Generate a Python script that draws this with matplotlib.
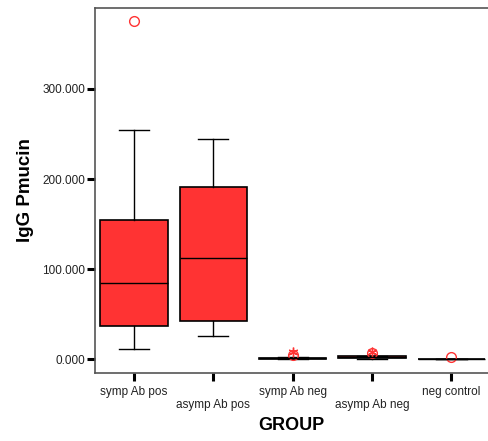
import matplotlib
matplotlib.use("Agg")
import matplotlib.pyplot as plt
from matplotlib.ticker import FuncFormatter

plt.rcParams['font.family'] = ['Liberation Sans', 'DejaVu Sans']

# group statistics
groups = ['symp Ab pos', 'asymp Ab pos', 'symp Ab neg', 'asymp Ab neg', 'neg control']
whislo = [11.0, 25.5, 0.0, 0.3, 0.0]
q1 = [36.5, 42.0, 0.3, 1.0, 0.1]
med = [84.0, 112.0, 0.8, 2.0, 0.2]
q3 = [154.0, 191.5, 1.5, 3.0, 0.4]
whishi = [254.5, 245.0, 2.5, 3.5, 0.6]
outliers = [[375.0], [], [4.5], [6.5], [2.5]]
extremes = [[], [], [8.0], [8.0], []]

red = '#FF3333'

stats = []
for i in range(len(groups)):
    stats.append(dict(label=groups[i], whislo=whislo[i], q1=q1[i], med=med[i],
                      q3=q3[i], whishi=whishi[i], fliers=outliers[i]))

fig = plt.figure(figsize=(4.88, 4.41), dpi=100)
ax = fig.add_axes([0.195, 0.154, 0.805, 0.828])

pos = list(range(len(groups)))
ax.bxp(stats, positions=pos, widths=0.85, patch_artist=True,
       boxprops=dict(facecolor=red, edgecolor='black', linewidth=1.2),
       medianprops=dict(color='black', linewidth=1.0),
       whiskerprops=dict(color='black', linewidth=1.0),
       capprops=dict(color='black', linewidth=1.0),
       capwidths=0.38,
       flierprops=dict(marker='o', markerfacecolor='none', markeredgecolor=red,
                       markersize=7, markeredgewidth=1.0))

for i, vals in enumerate(extremes):
    if vals:
        ax.plot([pos[i]] * len(vals), vals, linestyle='none', marker=(6, 2, 0),
                color=red, markersize=7, markeredgewidth=1.0)

ax.set_xlim(-0.49, 4.46)
ax.set_ylim(-15.5, 390)
ax.set_yticks([0, 100, 200, 300])
ax.yaxis.set_major_formatter(FuncFormatter(lambda v, p: '%.3f' % v))

ax.set_xticks(pos)
ax.set_xticklabels([g if i % 2 == 0 else '\n' + g for i, g in enumerate(groups)])

ax.tick_params(axis='both', direction='out', length=6, width=2.2, color='black',
               labelsize=8.5, labelcolor='#222222')
ax.tick_params(axis='y', pad=1)
ax.tick_params(axis='x', pad=3)

for side in ['left', 'bottom', 'top']:
    ax.spines[side].set_color('#555555')
    ax.spines[side].set_linewidth(1.2)
ax.spines['right'].set_visible(False)

ax.set_xlabel('GROUP', fontsize=13, fontweight='bold', labelpad=4)
ax.set_ylabel('IgG Pmucin', fontsize=13.5, fontweight='bold', labelpad=6)

fig.savefig('out.png', dpi=100)
